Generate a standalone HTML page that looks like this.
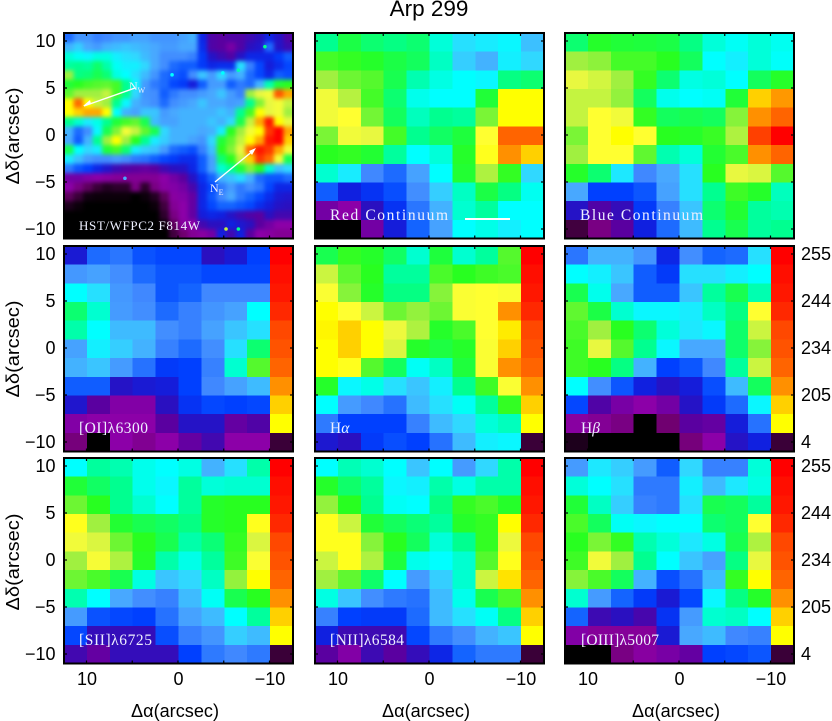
<!DOCTYPE html>
<html lang="en">
<head>
<meta charset="utf-8">
<title>Arp 299</title>
<style>
html,body{margin:0;padding:0;background:#fff;width:832px;height:721px;overflow:hidden}
svg{display:block}
text{font-family:"Liberation Sans",sans-serif;fill:#000}
.ax{font-size:18px}
.lab{font-family:"Liberation Serif",serif;font-size:15.5px;fill:#eef0ff}
</style>
</head>
<body>
<svg id="chart" width="832" height="721" viewBox="0 0 832 721" xmlns="http://www.w3.org/2000/svg">
<defs>
<filter id="hst-blur" filterUnits="userSpaceOnUse" x="30" y="0" width="300" height="270" color-interpolation-filters="sRGB"><feGaussianBlur stdDeviation="2"/></filter>
<clipPath id="hst-clip"><rect x="64" y="33" width="229" height="205"/></clipPath>
</defs>
<g id="panels"></g>
<text x="429" y="16" text-anchor="middle" font-size="22.5">Arp 299</text>
<text class="ax" transform="translate(19,136) rotate(-90)" text-anchor="middle" textLength="97" lengthAdjust="spacingAndGlyphs">Δδ(arcsec)</text>
<text class="ax" transform="translate(19,349) rotate(-90)" text-anchor="middle" textLength="97" lengthAdjust="spacingAndGlyphs">Δδ(arcsec)</text>
<text class="ax" transform="translate(19,562) rotate(-90)" text-anchor="middle" textLength="97" lengthAdjust="spacingAndGlyphs">Δδ(arcsec)</text>
<text class="ax" x="175" y="717" text-anchor="middle" textLength="88" lengthAdjust="spacingAndGlyphs">Δα(arcsec)</text>
<text class="ax" x="426" y="717" text-anchor="middle" textLength="88" lengthAdjust="spacingAndGlyphs">Δα(arcsec)</text>
<text class="ax" x="676" y="717" text-anchor="middle" textLength="88" lengthAdjust="spacingAndGlyphs">Δα(arcsec)</text>
<g id="overlay">
<text class="lab" x="79" y="230" style="font-size:13px" textLength="121" lengthAdjust="spacing">HST/WFPC2 F814W</text>
<line x1="135" y1="88" x2="84" y2="106" stroke="#fff" stroke-width="1.4"/>
<path d="M83 106 L90 100 L91 104 Z" fill="#fff"/>
<text class="lab" x="129" y="90" style="font-size:12px">N<tspan dy="3" style="font-size:8px">W</tspan></text>
<line x1="215" y1="182" x2="254" y2="150" stroke="#fff" stroke-width="1.4"/>
<path d="M256 148 L252 155 L249 151 Z" fill="#fff"/>
<text class="lab" x="210" y="192" style="font-size:12px">N<tspan dy="3" style="font-size:8px">E</tspan></text>
<text class="lab" x="330" y="220" textLength="118" lengthAdjust="spacing">Red Continuum</text>
<line x1="465" y1="219" x2="510" y2="219" stroke="#fff" stroke-width="2"/>
<text class="lab" x="580" y="220" textLength="123" lengthAdjust="spacing">Blue Continuum</text>
<text class="lab" x="79" y="433" textLength="69" lengthAdjust="spacing">[OI]λ6300</text>
<text class="lab" x="330" y="433">H<tspan font-style="italic">α</tspan></text>
<text class="lab" x="581" y="433">H<tspan font-style="italic">β</tspan></text>
<text class="lab" x="79" y="645" textLength="73" lengthAdjust="spacing">[SII]λ6725</text>
<text class="lab" x="330" y="645" textLength="74" lengthAdjust="spacing">[NII]λ6584</text>
<text class="lab" x="581" y="645" textLength="78" lengthAdjust="spacing">[OIII]λ5007</text>
</g>
</svg>
<script>
// Axis tick values and printed labels
const offsetTicks = [10, 5, 0, -5, -10];
const yTickLabels = ['10', '5', '0', '\u22125', '\u221210'];
const xTickValues = [10, 0, -10];
const xTickLabels = ['10', '0', '\u221210'];
const colorbarTickLabels = ['255', '244', '234', '205', '4'];
// Colour-bar column shown at the right of the emission-line maps
const colorbarValues = [255, 252, 250, 247, 243, 241, 236, 228, 220, 215, 10];
// Red continuum map
const redContinuum = [
[150,162,155,152,155,138,122,125,128,115],
[175,172,168,162,158,142,118,112,126,120],
[190,182,178,160,145,136,130,128,152,155],
[204,193,175,155,134,130,130,165,215,215],
[204,210,183,158,143,150,148,184,215,215],
[184,204,200,175,150,157,164,210,236,236],
[170,172,166,148,130,138,168,212,228,220],
[140,125,100,92,108,130,166,192,172,120],
[88,70,76,84,102,118,142,162,152,133],
[45,40,60,76,95,112,140,148,130,130],
[0,0,45,68,90,108,130,135,126,130]];
// Blue continuum map
const blueContinuum = [
[155,168,165,164,162,152,138,132,138,133],
[190,187,175,175,170,158,130,126,138,131],
[200,197,190,172,155,136,138,130,158,168],
[195,195,188,158,134,130,132,165,220,227],
[195,210,204,172,158,160,158,186,228,236],
[184,210,215,210,170,168,173,192,244,255],
[190,210,210,180,145,138,166,176,228,236],
[168,155,124,100,110,122,170,200,198,178],
[110,80,80,86,108,122,150,174,168,143],
[62,52,58,78,98,116,155,166,148,145],
[12,30,50,70,92,114,150,160,148,150]];
// [OI] 6300 map
const oi6300 = [
[66,92,95,85,82,82,60,66,80],
[105,108,102,92,86,86,82,82,82],
[130,122,105,100,86,90,100,100,100],
[155,140,106,102,92,98,104,108,130],
[146,130,114,114,102,98,108,116,122],
[108,126,118,112,98,92,102,122,155],
[112,116,106,94,78,80,98,140,178],
[88,88,62,66,68,80,100,108,114],
[64,50,42,42,60,76,82,80,82],
[42,40,40,40,50,62,62,48,52],
[28,0,40,34,40,48,55,40,40]];
// H-alpha map
const hAlpha = [
[160,172,168,157,140,164,140,148,178],
[196,180,170,148,148,176,170,174,176],
[208,186,168,152,152,186,208,210,208],
[215,210,196,182,188,182,208,210,228],
[216,220,215,202,192,168,176,210,217],
[215,220,215,198,168,163,168,208,220],
[215,212,178,158,132,142,164,208,228],
[168,128,135,122,116,126,150,174,208],
[130,106,100,94,114,122,132,148,172],
[96,80,80,80,98,114,120,138,143],
[65,60,78,84,80,94,114,126,128]];
// H-beta map
const hBeta = [
[95,112,112,104,72,102,90,92,122],
[130,126,116,88,78,122,122,126,130],
[160,134,110,88,88,116,148,160,145],
[180,162,140,128,128,125,142,152,210],
[176,190,170,155,138,124,128,156,196],
[174,200,178,150,128,110,110,156,186],
[174,170,152,112,80,86,100,148,196],
[130,102,86,70,62,68,84,114,158],
[82,52,44,40,45,62,78,92,128],
[38,35,30,0,25,50,48,68,94],
[5,0,0,0,0,28,40,62,70]];
// [SII] 6725 map
const sii6725 = [
[130,148,145,134,130,136,112,122,146],
[165,157,150,134,128,148,138,140,140],
[182,170,150,140,130,148,168,170,170],
[212,190,166,160,157,152,168,170,212],
[204,198,182,170,160,146,154,172,198],
[190,206,192,168,146,135,148,174,208],
[182,176,160,136,116,120,142,188,215],
[145,130,110,102,98,114,132,160,170],
[106,85,82,80,94,108,114,130,148],
[82,58,58,58,84,98,104,118,114],
[55,48,58,58,58,80,96,100,96]];
// [NII] 6584 map
const nii6584 = [
[130,144,140,130,116,130,106,120,146],
[168,156,148,128,126,146,136,146,146],
[188,170,150,132,130,152,172,176,168],
[212,196,165,158,154,148,168,172,215],
[212,212,186,170,158,138,150,172,202],
[196,212,192,164,134,130,140,178,212],
[190,180,156,130,106,118,140,196,218],
[136,116,102,96,94,114,134,160,176],
[98,80,78,78,92,114,122,132,152],
[70,56,56,56,82,96,102,112,116],
[50,42,56,50,58,72,90,96,96]];
// [OIII] 5007 map
const oiii5007 = [
[106,124,118,106,88,120,98,98,138],
[138,130,122,96,96,126,114,124,136],
[165,142,118,98,96,122,160,158,148],
[176,158,132,128,130,130,155,158,210],
[170,184,172,145,138,124,136,160,192],
[174,204,190,150,130,116,108,152,200],
[186,176,158,112,84,94,114,172,215],
[140,106,90,78,66,82,128,152,168],
[90,56,60,54,76,106,140,142,130],
[42,36,36,36,66,110,114,100,98],
[0,0,30,38,44,48,80,82,86]];
// HST F814W image, estimated on a coarse 24 x 22 grid
const hstImage = [
[92,104,104,98,100,104,104,108,108,104,104,104,108,112,72,52,50,52,52,56,60,72,62,52],
[112,118,110,106,112,114,116,114,112,110,106,106,110,110,74,52,50,44,52,60,64,92,62,56],
[138,132,128,136,136,126,122,120,114,110,102,102,102,98,78,62,56,52,62,72,72,72,78,88],
[148,150,148,156,146,132,126,126,120,110,102,92,88,88,78,72,74,74,122,98,82,68,74,82],
[190,152,154,160,154,136,130,122,114,104,92,88,84,102,116,106,120,106,112,92,82,72,88,84],
[165,170,175,178,180,175,150,128,106,96,92,82,78,68,88,106,106,88,96,92,112,145,165,170],
[180,190,190,190,195,175,150,120,104,102,88,96,102,102,106,110,116,106,98,190,200,205,240,225],
[215,235,215,195,190,150,128,112,106,102,92,102,106,110,116,110,110,106,108,150,185,200,205,195],
[215,220,225,225,215,130,112,108,116,116,106,110,112,112,112,112,116,112,150,175,215,200,205,190],
[150,140,125,135,150,165,175,180,160,114,108,108,112,112,112,116,112,120,160,195,225,250,215,200],
[112,92,102,128,160,185,205,195,180,160,120,112,112,112,110,112,125,170,190,205,215,245,255,225],
[110,88,112,150,190,215,190,170,150,125,118,112,112,108,104,120,165,180,195,215,225,250,255,220],
[160,130,120,125,165,175,155,125,118,115,106,92,88,84,98,115,170,185,200,235,250,245,225,205],
[125,115,106,102,102,106,102,96,94,88,82,78,74,74,88,108,155,170,195,220,245,235,205,160],
[96,86,80,72,64,56,52,50,48,50,56,60,62,72,88,108,140,150,165,185,170,140,115,120],
[45,45,42,40,38,36,35,35,35,35,40,45,50,62,76,90,112,116,122,112,92,86,86,92],
[40,30,20,10,6,8,8,30,8,30,38,42,45,54,72,82,96,106,96,102,96,82,72,72],
[20,10,3,2,2,2,2,0,2,6,20,38,42,48,72,86,100,110,96,90,82,74,66,64],
[5,2,0,0,0,0,0,0,0,2,12,35,40,48,72,82,90,90,86,82,74,68,62,60],
[0,0,0,0,0,0,0,0,0,0,8,30,40,48,68,72,70,62,56,52,50,60,55,55],
[0,0,0,0,0,0,0,0,0,0,2,20,38,40,55,60,60,70,65,60,50,45,40,40],
[0,0,0,0,0,0,0,0,0,0,0,12,25,35,38,45,70,55,70,50,40,38,35,35]];
// Point sources visible on the HST image: offset RA, offset Dec, level
const hstSourceRa = [-5.25, -6.6, -9.5, -6.6, -4.9, 5.8, 0.65];
const hstSourceDec = [-10, -10, 9.4, 6.9, 6.6, -4.6, 6.4];
const hstSourceLevel = [195, 150, 150, 145, 130, 110, 130];

const NS = 'http://www.w3.org/2000/svg';
const root = document.getElementById('panels');
const colorStops = [[0,'#000000'],[10,'#3a0038'],[25,'#700070'],[40,'#8c00a8'],[50,'#5a00a0'],[60,'#2a10c0'],[70,'#1020e0'],[80,'#0040ff'],[90,'#1464ff'],[100,'#4088ff'],[110,'#48a8ff'],[120,'#30d8ff'],[130,'#00ffff'],[140,'#00ffd0'],[150,'#00ff90'],[160,'#18ff50'],[170,'#28ff20'],[180,'#60f830'],[190,'#a0f040'],[200,'#e8f840'],[210,'#ffff30'],[215,'#ffff00'],[220,'#ffd000'],[228,'#ff9000'],[236,'#ff6400'],[242,'#ff5000'],[248,'#ff2000'],[255,'#ff0000']];
function hexToRgb(h){return [1,3,5].map(function(i){return parseInt(h.substr(i,2),16);});}
function colorScale(v){
  v = Math.max(0, Math.min(255, v));
  for (let i = 1; i < colorStops.length; i++) {
    if (v <= colorStops[i][0]) {
      const a = colorStops[i-1], b = colorStops[i];
      const t = (v - a[0]) / (b[0] - a[0]);
      const ca = hexToRgb(a[1]), cb = hexToRgb(b[1]);
      return 'rgb(' + ca.map(function(c,k){return Math.round(c + (cb[k]-c)*t);}).join(',') + ')';
    }
  }
  return colorStops[colorStops.length-1][1];
}
function svgEl(tag, attrs, parent){
  const el = document.createElementNS(NS, tag);
  for (const k in attrs) el.setAttribute(k, attrs[k]);
  parent.appendChild(el);
  return el;
}
const panelLefts = [64, 315, 565];
const panelTops = [33, 246, 458];
const panelW = 229, panelH = 205.5;
function xAxis(left, arcsec){return left + 114 - 9.15 * arcsec;}
function yAxis(top, arcsec){return top + 102 - 9.4 * arcsec;}

function drawCells(grid, left, top, name, parent, hasBar){
  const rows = grid.length, cols = hasBar ? 10 : grid[0].length;
  const w = panelW / cols, h = panelH / rows;
  grid.forEach(function(row, r){
    const vals = hasBar ? row.concat([colorbarValues[r]]) : row;
    vals.forEach(function(v, c){
      const cell = svgEl('rect', {x:(left + c*w).toFixed(2), y:(top + r*h).toFixed(2), width:(w+0.4).toFixed(2), height:(h+0.4).toFixed(2), fill:colorScale(v), 'shape-rendering':'crispEdges'}, parent);
      
      
    });
  });
}
function drawHst(left, top, parent){
  const clip = svgEl('g', {'clip-path':'url(#hst-clip)'}, parent);
  
  
  const blur = svgEl('g', {filter:'url(#hst-blur)'}, clip);
  const rows = hstImage.length, cols = hstImage[0].length;
  const w = panelW / cols, h = panelH / rows;
  hstImage.forEach(function(row, r){
    row.forEach(function(v, c){
      const pad = 14;
      const x0 = left + c*w - (c === 0 ? pad : 0);
      const y0 = top + r*h - (r === 0 ? pad : 0);
      const x1 = left + (c+1)*w + (c === cols-1 ? pad : 0.4);
      const y1 = top + (r+1)*h + (r === rows-1 ? pad : 0.4);
      const cell = svgEl('rect', {x:x0.toFixed(2), y:y0.toFixed(2), width:(x1-x0).toFixed(2), height:(y1-y0).toFixed(2), fill:colorScale(v)}, blur);
      
      
    });
  });
  hstSourceLevel.forEach(function(level, i){
    const src = svgEl('circle', {cx:xAxis(left, hstSourceRa[i]), cy:yAxis(top, hstSourceDec[i]), r:1.8, fill:colorScale(level)}, clip);
    
    
  });
}
function drawFrame(left, top, name, parent){
  const frame = svgEl('rect', {x:left, y:top, width:panelW, height:panelH, fill:'none', stroke:'#000', 'stroke-width':2}, parent);
  
  
  offsetTicks.forEach(function(t){
    const x = xAxis(left, t), y = yAxis(top, t);
    [[x,top,x,top+3],[x,top+panelH,x,top+panelH-3],[left,y,left+3,y],[left+panelW,y,left+panelW-3,y]].forEach(function(p){
      const tick = svgEl('line', {x1:p[0], y1:p[1], x2:p[2], y2:p[3], stroke:'#000', 'stroke-width':1.2}, parent);
      
      
    });
  });
}
function addText(str, x, y, anchor, name){
  const t = svgEl('text', {x:x, y:y, 'text-anchor':anchor, 'font-size':18, 'dominant-baseline':'central'}, root);
  t.textContent = str;
  
  
}
const panelDefs = [
  {name:'hst', r:0, c:0},
  {name:'red-continuum', r:0, c:1, grid:redContinuum},
  {name:'blue-continuum', r:0, c:2, grid:blueContinuum},
  {name:'oi-6300', r:1, c:0, grid:oi6300, bar:true},
  {name:'h-alpha', r:1, c:1, grid:hAlpha, bar:true},
  {name:'h-beta', r:1, c:2, grid:hBeta, bar:true},
  {name:'sii-6725', r:2, c:0, grid:sii6725, bar:true},
  {name:'nii-6584', r:2, c:1, grid:nii6584, bar:true},
  {name:'oiii-5007', r:2, c:2, grid:oiii5007, bar:true}
];
panelDefs.forEach(function(p){
  const left = panelLefts[p.c], top = panelTops[p.r];
  const g = svgEl('g', {}, root);
  
  
  if (p.grid) drawCells(p.grid, left, top, p.name, g, !!p.bar);
  else drawHst(left, top, g);
  drawFrame(left, top, p.name, g);
});
panelTops.forEach(function(top, r){
  offsetTicks.forEach(function(t, i){
    addText(yTickLabels[i], 55.5, yAxis(top, t), 'end', 'y-tick-label');
  });
  if (r > 0) {
    offsetTicks.forEach(function(t, i){
      addText(colorbarTickLabels[i], 801, yAxis(top, t), 'start', 'colorbar-tick-label');
    });
  }
});
panelLefts.forEach(function(left){
  xTickValues.forEach(function(t, i){
    addText(xTickLabels[i], xAxis(left, t) + 0.5, 679, 'middle', 'x-tick-label');
  });
});
</script>
</body>
</html>
